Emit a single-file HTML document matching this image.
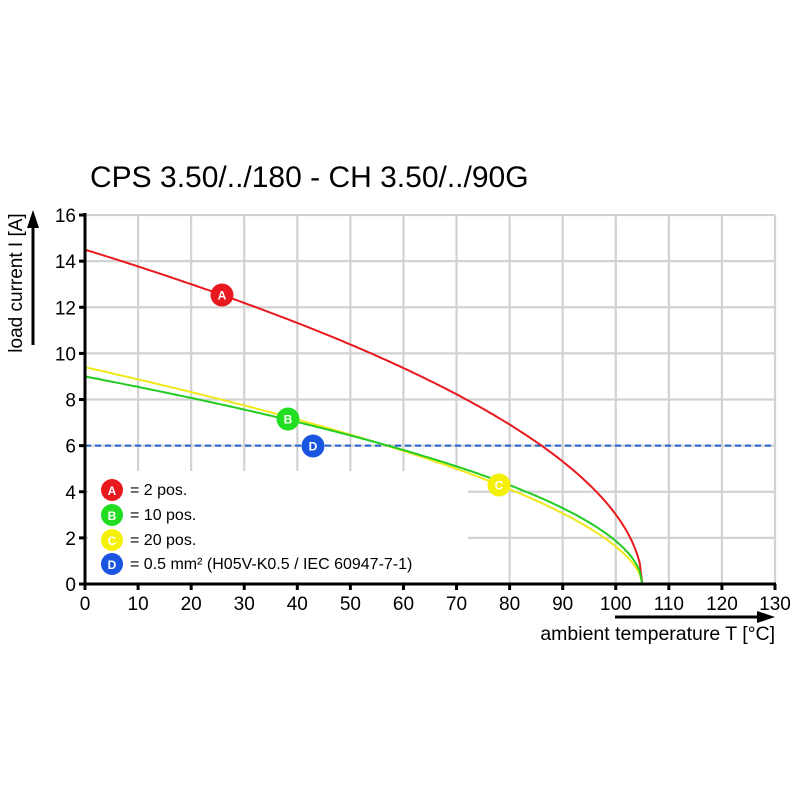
<!DOCTYPE html>
<html><head><style>body{margin:0;background:#fff}</style></head><body>
<svg id="s" width="800" height="800" xmlns="http://www.w3.org/2000/svg" font-family="Liberation Sans, Arial, sans-serif">
<rect width="800" height="800" fill="#fff"/>
<g id="grid" stroke="#d2d2d2" stroke-width="2.2"></g>
<rect x="88" y="471" width="380" height="111" fill="#fff"/>
<text x="90" y="187" font-size="30" fill="#000">CPS 3.50/../180 - CH 3.50/../90G</text>
<line x1="85" y1="445.6" x2="775" y2="445.6" stroke="#1f5fd0" stroke-width="2" stroke-dasharray="6,4"/>
<path id="pA" fill="none" stroke="#e8191e" stroke-width="2"/>
<path id="pC" fill="none" stroke="#f0e81a" stroke-width="2"/>
<path id="pB" fill="none" stroke="#22cc22" stroke-width="2"/>
<g id="ax" stroke="#000" stroke-width="3"></g>
<g id="lbl" font-size="19" fill="#000"></g>
<text transform="translate(22,283) rotate(-90)" text-anchor="middle" font-size="19">load current I [A]</text>
<line x1="33" y1="345" x2="33" y2="225" stroke="#000" stroke-width="3"/>
<polygon points="33,210 27,228 39,228" fill="#000"/>
<line x1="615" y1="617" x2="760" y2="617" stroke="#000" stroke-width="3"/>
<polygon points="775,617 757,611 757,623" fill="#000"/>
<text x="775" y="640" text-anchor="end" font-size="19.5">ambient temperature T [°C]</text>
<g font-size="16">
<circle cx="112" cy="490" r="11" fill="#e8191e"/><text x="112" y="495" text-anchor="middle" font-size="12" font-weight="bold" fill="#fff">A</text><text x="130" y="495">= 2 pos.</text>
<circle cx="112" cy="515" r="11" fill="#22dd22"/><text x="112" y="520" text-anchor="middle" font-size="12" font-weight="bold" fill="#fff">B</text><text x="130" y="520">= 10 pos.</text>
<circle cx="112" cy="540" r="11" fill="#f5f00a"/><text x="112" y="545" text-anchor="middle" font-size="12" font-weight="bold" fill="#fff">C</text><text x="130" y="545">= 20 pos.</text>
<circle cx="112" cy="564" r="11" fill="#1a55e0"/><text x="112" y="569" text-anchor="middle" font-size="12" font-weight="bold" fill="#fff">D</text><text x="130" y="569">= 0.5 mm² (H05V-K0.5 / IEC 60947-7-1)</text>
</g>
<g id="mk"></g>
</svg>
<script>
var X=t=>85+t*5.3077,Y=v=>584-v*23.06,NS="http://www.w3.org/2000/svg";
function el(p,n,a,txt){var e=document.createElementNS(NS,n);for(var k in a)e.setAttribute(k,a[k]);if(txt!=null)e.textContent=txt;document.getElementById(p).appendChild(e);}
for(var i=1;i<=13;i++)el("grid","line",{x1:X(i*10),y1:215,x2:X(i*10),y2:584});
for(var j=1;j<=8;j++)el("grid","line",{x1:85,y1:Y(j*2),x2:775,y2:Y(j*2)});
el("ax","line",{x1:85,y1:213,x2:85,y2:585});
el("ax","line",{x1:84,y1:584,x2:776,y2:584});
for(var i=0;i<=13;i++){el("ax","line",{x1:X(i*10),y1:584,x2:X(i*10),y2:590});el("lbl","text",{x:X(i*10),y:610,"text-anchor":"middle"},i*10);}
for(var j=0;j<=8;j++){el("ax","line",{x1:79,y1:Y(j*2),x2:85,y2:Y(j*2)});el("lbl","text",{x:76,y:Y(j*2)+7,"text-anchor":"end"},j*2);}
function path(id,i0,p){var d="";for(var t=0;t<=105;t+=0.5){var v=i0*Math.pow(Math.max(0,1-t/105),p);d+=(t?"L":"M")+X(t).toFixed(1)+","+Y(v).toFixed(1);}document.getElementById(id).setAttribute("d",d);}
path("pA",14.5,0.516);path("pB",9.0,0.517);path("pC",9.4,0.576);
[[222,295,"#e8191e","A"],[288,419,"#22dd22","B"],[499,485,"#f5f00a","C"],[313,446,"#1a55e0","D"]].forEach(m=>{el("mk","circle",{cx:m[0],cy:m[1],r:11.5,fill:m[2]});el("mk","text",{x:m[0],y:m[1]+4.5,"text-anchor":"middle","font-size":12,"font-weight":"bold",fill:"#fff"},m[3]);});
</script>
</body></html>
